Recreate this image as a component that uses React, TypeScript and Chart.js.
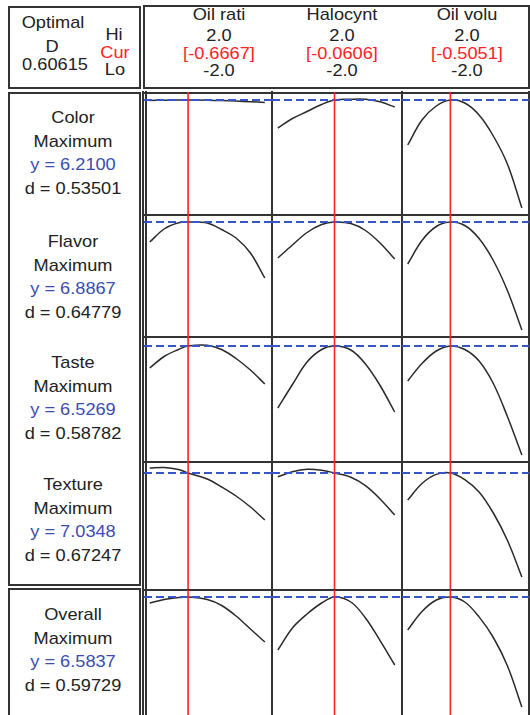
import React, { useEffect, useRef } from "react";
import { Chart, registerables } from "chart.js";

Chart.register(...registerables);

// ---------- data ----------
const factorNames = ["Oil rati", "Halocynt", "Oil volu"];
const factorHigh = ["2.0", "2.0", "2.0"];
const factorLow = ["-2.0", "-2.0", "-2.0"];
const factorCurrent = [-0.6667, -0.0606, -0.5051];

const compositeD = "0.60615";

const responseNames = ["Color", "Flavor", "Taste", "Texture", "Overall"];
const responseGoals = ["Maximum", "Maximum", "Maximum", "Maximum", "Maximum"];
const predictedY = [6.21, 6.8867, 6.5269, 7.0348, 6.5837];
const predictedYLabel = ["6.2100", "6.8867", "6.5269", "7.0348", "6.5837"];
const desirabilityLabel = ["0.53501", "0.64779", "0.58782", "0.67247", "0.59729"];

// factor levels at which each response curve is evaluated
const xOilRatio = [-2, -1.5, -1, -0.6667, 0, 0.5, 1, 1.5, 2];
const xHalocynt = [-2, -1.5, -1, -0.5, -0.0606, 0.5, 1, 1.5, 2];
const xOilVolume = [-2, -1.5, -1, -0.5051, 0, 0.5, 1, 1.5, 2];

// Color
const colorOilRatio = [6.198, 6.207, 6.211, 6.21, 6.205, 6.198, 6.188, 6.175, 6.16];
const colorHalocynt = [5.65, 5.84, 5.98, 6.12, 6.21, 6.225, 6.225, 6.174, 6.07];
const colorOilVolume = [5.31, 5.81, 6.09, 6.21, 6.15, 5.91, 5.49, 4.92, 4.05];
// Flavor
const flavorOilRatio = [6.487, 6.747, 6.871, 6.887, 6.867, 6.737, 6.567, 6.267, 5.767];
const flavorHalocynt = [6.167, 6.427, 6.677, 6.837, 6.887, 6.857, 6.717, 6.467, 6.147];
const flavorOilVolume = [6.047, 6.517, 6.797, 6.887, 6.817, 6.557, 6.117, 5.507, 4.727];
// Taste
const tasteOilRatio = [6.087, 6.317, 6.457, 6.527, 6.543, 6.457, 6.277, 6.047, 5.767];
const tasteHalocynt = [5.287, 5.757, 6.207, 6.457, 6.527, 6.447, 6.167, 5.737, 5.207];
const tasteOilVolume = [5.827, 6.177, 6.427, 6.527, 6.457, 6.227, 5.777, 5.107, 4.347];
// Texture
const textureOilRatio = [7.135, 7.145, 7.105, 7.035, 6.915, 6.755, 6.575, 6.355, 6.095];
const textureHalocynt = [6.96, 7.06, 7.11, 7.09, 7.035, 6.95, 6.781, 6.515, 6.195];
const textureOilVolume = [6.495, 6.825, 7.007, 7.035, 6.903, 6.655, 6.235, 5.681, 4.955];
// Overall
const overallOilRatio = [6.464, 6.534, 6.574, 6.584, 6.534, 6.414, 6.204, 5.944, 5.684];
const overallHalocynt = [5.524, 5.964, 6.244, 6.464, 6.584, 6.484, 6.164, 5.712, 5.224];
const overallOilVolume = [5.924, 6.294, 6.524, 6.584, 6.484, 6.186, 5.774, 5.2, 4.384];

// y-axis ranges of each response row
const yAxisMin = [3.91, 4.587, 4.207, 4.715, 4.204];
const yAxisMax = [6.37, 7.027, 6.707, 7.255, 6.724];

const factorLevels = [xOilRatio, xHalocynt, xOilVolume];
const curves = [
  [colorOilRatio, colorHalocynt, colorOilVolume],
  [flavorOilRatio, flavorHalocynt, flavorOilVolume],
  [tasteOilRatio, tasteHalocynt, tasteOilVolume],
  [textureOilRatio, textureHalocynt, textureOilVolume],
  [overallOilRatio, overallHalocynt, overallOilVolume],
];

// ---------- layout / style ----------
const X_MIN = -2.2;
const X_MAX = 2.25;
const FONT = "'Liberation Sans', Arial, Helvetica, sans-serif";
const TEXT = "#222";
const BLUE_TEXT = "#3a4db0";
const RED = "#ff2222";
const DASH_BLUE = "#3656c8";
const BORDER = "#333";

const colLeft = [144, 272, 402];
const colWidth = [128, 130, 127];
const rowTop = [92, 215, 337, 462, 590];
const rowHeight = [123, 122, 125, 127, 126];
const headerCenter = [219, 342, 467];
const labelFirstLine = [118, 242, 363, 485, 615];

type CellProps = {
  left: number;
  top: number;
  width: number;
  height: number;
  xs: number[];
  ys: number[];
  cur: number;
  curX: number;
  yMin: number;
  yMax: number;
};

function Cell({ left, top, width, height, xs, ys, cur, curX, yMin, yMax }: CellProps) {
  const ref = useRef<HTMLCanvasElement>(null);
  useEffect(() => {
    const chart = new Chart(ref.current as HTMLCanvasElement, {
      type: "line",
      data: {
        datasets: [
          {
            data: [
              { x: curX, y: yMin - 1 },
              { x: curX, y: yMax + 1 },
            ],
            borderColor: RED,
            borderWidth: 1.6,
            pointRadius: 0,
          },
          {
            data: [
              { x: X_MIN, y: cur },
              { x: X_MAX, y: cur },
            ],
            borderColor: DASH_BLUE,
            borderWidth: 2,
            borderDash: [8, 4],
            pointRadius: 0,
          },
          {
            data: xs.map((x, i) => ({ x, y: ys[i] })),
            borderColor: "#2a2a2a",
            borderWidth: 1.5,
            pointRadius: 0,
            tension: 0.35,
          },
        ],
      },
      options: {
        responsive: false,
        animation: false,
        events: [],
        layout: { padding: 0, autoPadding: false },
        plugins: { legend: { display: false }, tooltip: { enabled: false } },
        scales: {
          x: { type: "linear", min: X_MIN, max: X_MAX, display: false },
          y: { type: "linear", min: yMin, max: yMax, display: false },
        },
      },
    } as any);
    return () => chart.destroy();
  }, []);
  return (
    <canvas
      ref={ref}
      width={width}
      height={height}
      style={{ position: "absolute", left, top, width, height }}
    />
  );
}

function T({ cx, cy, text, color = TEXT }: { cx: number; cy: number; text: string; color?: string }) {
  return (
    <div
      style={{
        position: "absolute",
        left: cx - 100,
        top: cy - 10,
        width: 200,
        height: 20,
        lineHeight: "20px",
        textAlign: "center",
        color,
        fontSize: 17,
        fontFamily: FONT,
        whiteSpace: "nowrap",
        transform: "scaleX(1.07)",
        transformOrigin: "center",
      }}
    >
      {text}
    </div>
  );
}

function L({ x, y, w, h }: { x: number; y: number; w: number; h: number }) {
  return <div style={{ position: "absolute", left: x, top: y, width: w, height: h, background: BORDER }} />;
}

function Box({ x, y, w, h }: { x: number; y: number; w: number; h: number }) {
  return (
    <div
      style={{
        position: "absolute",
        left: x,
        top: y,
        width: w,
        height: h,
        border: `2px solid ${BORDER}`,
        boxSizing: "border-box",
      }}
    />
  );
}

export default function App() {
  const cells: any[] = [];
  for (let r = 0; r < responseNames.length; r++) {
    for (let c = 0; c < factorNames.length; c++) {
      cells.push(
        <Cell
          key={`${r}-${c}`}
          left={colLeft[c]}
          top={rowTop[r]}
          width={colWidth[c]}
          height={rowHeight[r]}
          xs={factorLevels[c]}
          ys={curves[r][c]}
          cur={predictedY[r]}
          curX={factorCurrent[c]}
          yMin={yAxisMin[r]}
          yMax={yAxisMax[r]}
        />
      );
    }
  }

  return (
    <div
      style={{
        position: "absolute",
        left: 0,
        top: 0,
        width: 530,
        height: 715,
        overflow: "hidden",
        background: "#fff",
      }}
    >
      {/* header boxes */}
      <Box x={8} y={6} w={133} h={83} />
      <Box x={143} y={5} w={387} h={84} />
      <T cx={52.5} cy={23} text="Optimal" />
      <T cx={52} cy={46.5} text="D" />
      <T cx={55} cy={65} text={compositeD} />
      <T cx={114} cy={35} text="Hi" />
      <T cx={115} cy={53} text="Cur" color={RED} />
      <T cx={115} cy={70} text="Lo" />
      {factorNames.map((f, i) => (
        <React.Fragment key={f}>
          <T cx={headerCenter[i]} cy={15} text={f} />
          <T cx={headerCenter[i]} cy={36} text={factorHigh[i]} />
          <T cx={headerCenter[i]} cy={53.5} text={`[${factorCurrent[i].toFixed(4)}]`} color={RED} />
          <T cx={headerCenter[i]} cy={71} text={factorLow[i]} />
        </React.Fragment>
      ))}

      {/* response label boxes */}
      <Box x={8} y={92} w={133} h={494} />
      <Box x={8} y={588} w={133} h={140} />
      {responseNames.map((name, r) => (
        <React.Fragment key={name}>
          <T cx={73} cy={labelFirstLine[r]} text={name} />
          <T cx={73} cy={labelFirstLine[r] + 23.7} text={responseGoals[r]} />
          <T cx={73} cy={labelFirstLine[r] + 47.4} text={`y = ${predictedYLabel[r]}`} color={BLUE_TEXT} />
          <T cx={73} cy={labelFirstLine[r] + 71} text={`d = ${desirabilityLabel[r]}`} />
        </React.Fragment>
      ))}

      {/* plot grid lines */}
      <L x={142} y={91} w={2} h={630} />
      <L x={145} y={91} w={2} h={630} />
      <L x={271} y={91} w={2} h={630} />
      <L x={401} y={91} w={2} h={630} />
      <L x={528} y={91} w={2} h={630} />
      <L x={142} y={92} w={388} h={2} />
      <L x={142} y={214} w={388} h={2} />
      <L x={142} y={336} w={388} h={2} />
      <L x={142} y={461} w={388} h={2} />
      <L x={142} y={589} w={388} h={2} />

      {/* response charts (drawn above the frame so the red lines cross it) */}
      {cells}
    </div>
  );
}
